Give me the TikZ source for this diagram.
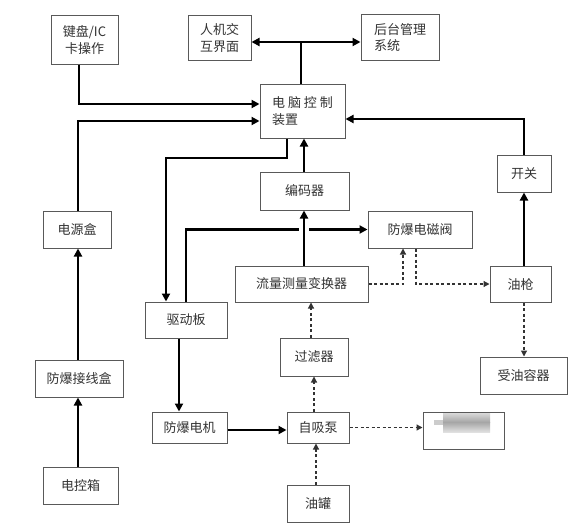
\documentclass[tikz,border=0pt]{standalone}
\usepackage{fontspec}
\setmainfont{Noto Sans CJK SC}
\usetikzlibrary{arrows.meta}
\begin{document}
\begin{tikzpicture}[x=1pt,y=-1pt,
  box/.style={draw=black!65,line width=1pt,fill=white,inner sep=2pt,
    font=\fontsize{13}{16.5}\selectfont,text=black!80,align=center},
  sl/.style={line width=2.6pt,draw=black,-{Triangle[length=8pt,width=8pt]}},
  sn/.style={line width=2.6pt,draw=black},
  dl/.style={line width=1.2pt,draw=black!80,dash pattern=on 3pt off 2.5pt,-{Triangle[length=6pt,width=6pt]}}]
\useasboundingbox[fill=white] (0,0) rectangle (577,527);
% boxes
\node[box,minimum width=67pt,minimum height=48pt] (kb) at (84.5,40) {键盘/IC\\卡操作};
\node[box,minimum width=63pt,minimum height=44pt] (hmi) at (219.5,38) {人机交\\互界面};
\node[box,minimum width=78pt,minimum height=45pt,align=left] (ht) at (400,37.5) {后台管理\\系统};
\node[box,minimum width=85pt,minimum height=54pt,align=left] (pc) at (302.5,111) {电 脑 控 制\\装置};
\node[box,minimum width=54pt,minimum height=37pt] (kg) at (524,173.5) {开关};
\node[box,minimum width=89pt,minimum height=38pt] (bm) at (304.5,191) {编码器};
\node[box,minimum width=104pt,minimum height=37pt] (fv) at (420,229.5) {防爆电磁阀};
\node[box,minimum width=61pt,minimum height=36pt] (yq) at (520.5,284) {油枪};
\node[box,minimum width=133pt,minimum height=36pt] (ll) at (301.5,284) {流量测量变换器};
\node[box,minimum width=68pt,minimum height=37pt] (dy) at (77,229.5) {电源盒};
\node[box,minimum width=82pt,minimum height=36pt] (qd) at (186,320) {驱动板};
\node[box,minimum width=68pt,minimum height=38pt] (gl) at (314,357) {过滤器};
\node[box,minimum width=87pt,minimum height=37pt] (sy) at (523.5,375.5) {受油容器};
\node[box,minimum width=88pt,minimum height=37pt] (jx) at (79,378.5) {防爆接线盒};
\node[box,minimum width=75pt,minimum height=31pt] (dj) at (189.5,427.5) {防爆电机};
\node[box,minimum width=62pt,minimum height=31pt] (zx) at (318,427.5) {自吸泵};
\node[box,minimum width=81pt,minimum height=37pt] (bl) at (463.5,430.5) {};
\node[box,minimum width=75pt,minimum height=37pt] (dk) at (80.5,485.5) {电控箱};
\node[box,minimum width=62pt,minimum height=37pt] (yg) at (318,503.5) {油罐};
% blurred content
\shade[top color=black!15,bottom color=black!35] (443,413) rectangle (490,422);
\shade[top color=black!35,bottom color=black!12] (443,422) rectangle (490,432);
\fill[black!20] (434,420) rectangle (443,425);
% solid connectors
\draw[sl] ([xshift=-5.5pt]kb.south) |- ([yshift=7pt]pc.west);
\draw[sl] ([xshift=1pt]dy.north) |- ([yshift=-10pt]pc.west);
\coordinate (h) at (301,42);
\draw[line width=2.6pt,{Triangle[length=8pt,width=8pt]}-{Triangle[length=8pt,width=8pt]}] (hmi.east |- h) -- (ht.west |- h);
\draw[sn] (pc.north -| h) -- (h);
\coordinate (t4) at (166,158);
\draw[sl] ([xshift=-15.5pt]pc.south) |- (t4) -- (t4 |- qd.north);
\draw[sl] ([xshift=-0.5pt]bm.north) -- ([xshift=-0.5pt]bm.north |- pc.south);
\draw[sl] (qd.north) |- (fv.west);
\draw[sl,preaction={draw=white,line width=10pt,-}] ([xshift=-0.5pt]bm.south |- ll.north) -- ([xshift=-0.5pt]bm.south);
\draw[sl] ([xshift=1pt]dy.south |- jx.north) -- ([xshift=1pt]dy.south);
\draw[sl] ([xshift=1pt]dy.south |- dk.north) -- ([xshift=1pt]dy.south |- jx.south);
\draw[sl] ([xshift=-7pt]qd.south) -- ([xshift=-7pt]qd.south |- dj.north);
\draw[sl] ([yshift=-2.5pt]dj.east) -- ([yshift=-2.5pt]zx.west);
\draw[sl] (kg.south |- yq.north) -- (kg.south);
\draw[sl] (kg.north) |- ([yshift=-8pt]pc.east);
% dashed connectors
\draw[dl] ([xshift=-4pt]zx.north) -- ([xshift=-4pt]zx.north |- gl.south);
\draw[dl] ([xshift=-3pt]gl.north) -- ([xshift=-3pt]gl.north |- ll.south);
\draw[dl] (ll.east) -| ([xshift=-17pt]fv.south);
\draw[dl] ([xshift=-4pt]fv.south) |- (yq.west);
\draw[dl] (kg.south |- yq.south) -- (kg.south |- sy.north);
\draw[dl] (zx.east) -- (bl.west |- zx.east);
\draw[dl] ([xshift=-2pt]yg.north) -- ([xshift=-2pt]yg.north |- zx.south);
\end{tikzpicture}
\end{document}
